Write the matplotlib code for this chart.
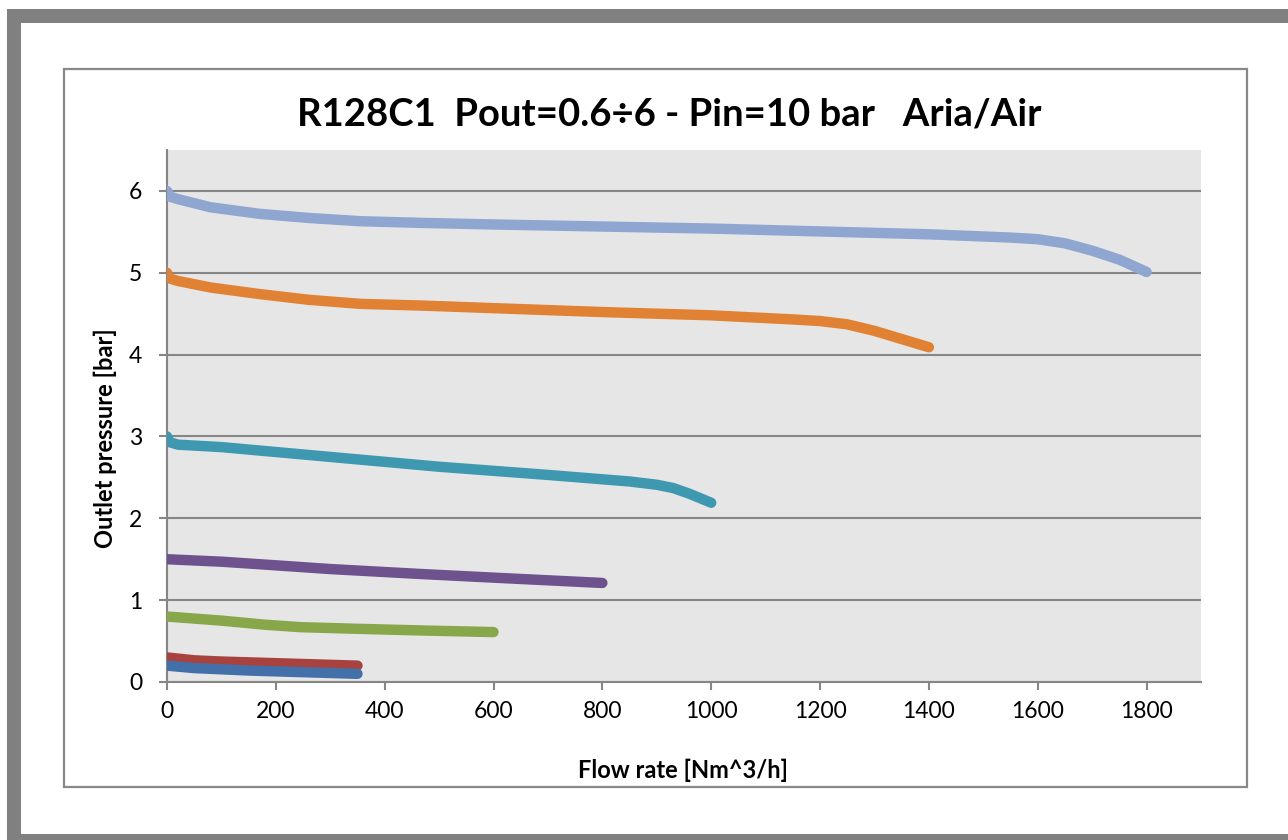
import matplotlib
matplotlib.use("Agg")
import matplotlib.pyplot as plt
from matplotlib.patches import Rectangle

# Data (flow rate [Nm^3/h], outlet pressure [bar])
s1_x = [0, 50, 100, 150, 250, 350]
s1_y = [0.2, 0.17, 0.155, 0.14, 0.12, 0.1]
s2_x = [0, 50, 100, 150, 250, 350]
s2_y = [0.3, 0.265, 0.25, 0.24, 0.22, 0.2]
s3_x = [0, 100, 180, 245, 350, 465, 600]
s3_y = [0.8, 0.75, 0.7, 0.67, 0.65, 0.63, 0.61]
s4_x = [0, 100, 190, 300, 465, 600, 800]
s4_y = [1.5, 1.47, 1.43, 1.38, 1.32, 1.275, 1.21]
s5_x = [0, 5, 20, 100, 300, 500, 700, 850, 900, 930, 960, 1000]
s5_y = [3.0, 2.93, 2.9, 2.87, 2.75, 2.63, 2.53, 2.45, 2.41, 2.37, 2.3, 2.19]
s6_x = [0, 5, 20, 80, 170, 260, 355, 465, 800, 1000, 1150, 1200, 1250, 1300, 1350, 1400]
s6_y = [5.0, 4.93, 4.9, 4.82, 4.74, 4.67, 4.62, 4.6, 4.52, 4.48, 4.43, 4.41, 4.37, 4.29, 4.19, 4.09]
s7_x = [0, 5, 20, 80, 170, 260, 355, 465, 600, 1000, 1400, 1550, 1600, 1650, 1700, 1750, 1800]
s7_y = [6.0, 5.93, 5.9, 5.8, 5.72, 5.67, 5.63, 5.61, 5.59, 5.54, 5.47, 5.43, 5.41, 5.36, 5.27, 5.16, 5.01]

series = [
    (s7_x, s7_y, "#8EA6D0"),
    (s6_x, s6_y, "#E08133"),
    (s5_x, s5_y, "#3E98B0"),
    (s4_x, s4_y, "#6D528D"),
    (s3_x, s3_y, "#88A74B"),
    (s2_x, s2_y, "#A8423F"),
    (s1_x, s1_y, "#4470AA"),
]

x_ticks = [0, 200, 400, 600, 800, 1000, 1200, 1400, 1600, 1800]
y_ticks = [0, 1, 2, 3, 4, 5, 6]

W, H = 1288, 840
fig = plt.figure(figsize=(W / 100, H / 100), dpi=100)
fig.patch.set_facecolor("white")

def fr(x0, y0, x1, y1):
    return (x0 / W, 1 - y1 / H, (x1 - x0) / W, (y1 - y0) / H)

# outer frame
a = fr(7, 9, 1300, 850)
fig.add_artist(Rectangle((a[0], a[1]), a[2], a[3], transform=fig.transFigure,
                         facecolor="#808080", edgecolor="none", zorder=0))
b = fr(21, 23, 1300, 834)
fig.add_artist(Rectangle((b[0], b[1]), b[2], b[3], transform=fig.transFigure,
                         facecolor="white", edgecolor="none", zorder=0))
c = fr(64, 69, 1247, 787)
fig.add_artist(Rectangle((c[0], c[1]), c[2], c[3], transform=fig.transFigure,
                         facecolor="white", edgecolor="#888888", linewidth=1.6, zorder=0))

ax = fig.add_axes(fr(167, 150, 1201, 682))
ax.set_facecolor("#E6E6E6")
for xs, ys, col in series:
    ax.plot(xs, ys, color=col, linewidth=7.5, solid_capstyle="round",
            solid_joinstyle="round", zorder=3)

ax.set_xlim(0, 1900)
ax.set_ylim(0, 6.5)
ax.set_xticks(x_ticks)
ax.set_yticks(y_ticks)
ax.yaxis.grid(True, color="#868686", linewidth=1.5)
ax.set_axisbelow(True)
for s in ["top", "right"]:
    ax.spines[s].set_visible(False)
for s in ["left", "bottom"]:
    ax.spines[s].set_color("#868686")
    ax.spines[s].set_linewidth(1.5)
ax.tick_params(axis="both", colors="#868686", length=6, width=1.5,
               labelsize=16.5, labelcolor="black")
ax.tick_params(axis="x", pad=8)
ax.tick_params(axis="y", pad=12)
for lab in ax.get_xticklabels() + ax.get_yticklabels():
    lab.set_family("Lato")

fig.text(669 / W, 1 - 114 / H, "R128C1  Pout=0.6÷6 - Pin=10 bar   Aria/Air",
         ha="center", va="center", fontsize=27.5, fontweight="bold", family="Lato")
fig.text(683 / W, 1 - 770 / H, "Flow rate [Nm^3/h]", ha="center", va="center",
         fontsize=17, fontweight="bold", family="Lato")
fig.text(105 / W, 1 - 438 / H, "Outlet pressure [bar]", ha="center", va="center",
         rotation=90, fontsize=17, fontweight="bold", family="Lato")

fig.savefig("out.png", dpi=100)
